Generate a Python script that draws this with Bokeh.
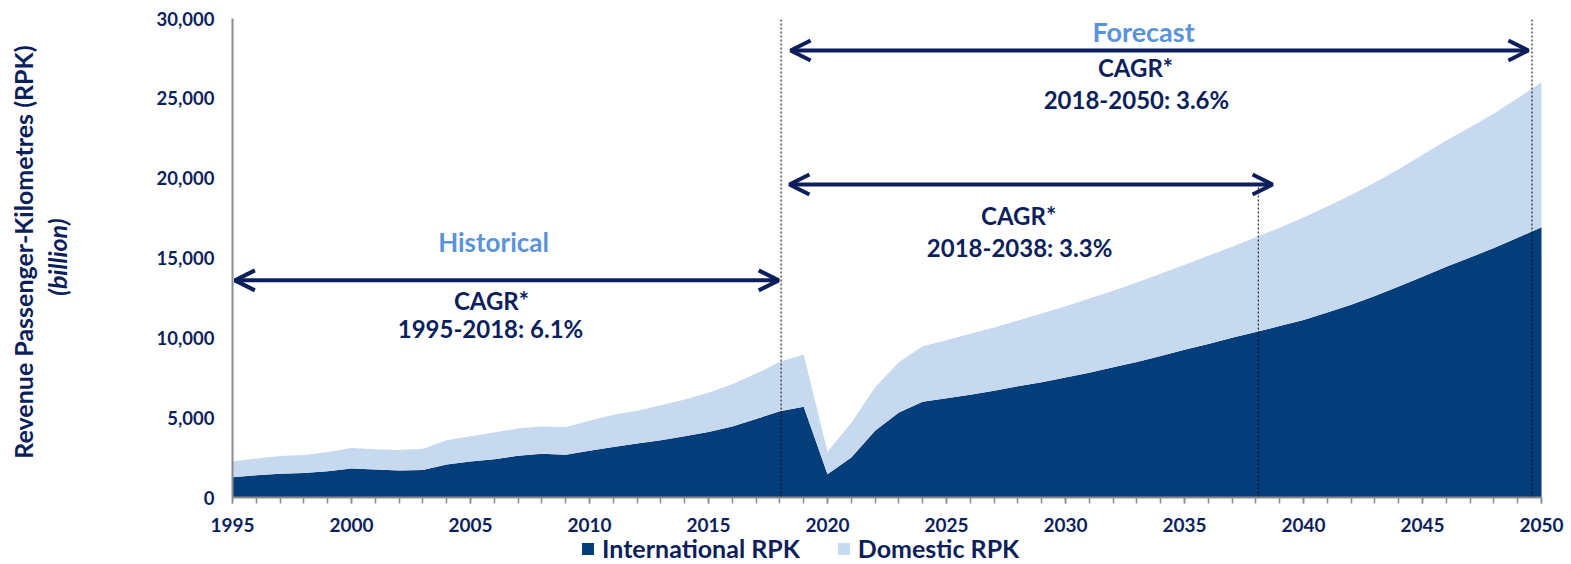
from bokeh.plotting import figure
from bokeh.models import (ColumnDataSource, Range1d, NumeralTickFormatter, SingleIntervalTicker,
                          Label, Arrow, OpenHead, Legend, LegendItem)
from bokeh.embed import file_html
from bokeh.resources import INLINE

years = list(range(1995, 2051))
international = [1270, 1390, 1480, 1540, 1650, 1810, 1750, 1690, 1730, 2070,
                 2260, 2400, 2610, 2740, 2680, 2930, 3170, 3380, 3590, 3840,
                 4110, 4450, 4920, 5400, 5690, 1460, 2510, 4180, 5330, 6000,
                 6210, 6440, 6690, 6960, 7220, 7510, 7820, 8160, 8490, 8870,
                 9250, 9620, 10000, 10360, 10740, 11120, 11580, 12070, 12620, 13210,
                 13820, 14450, 15030, 15620, 16270, 16920]
total = [2260, 2450, 2600, 2660, 2850, 3100, 3020, 2980, 3060, 3590,
         3840, 4070, 4330, 4450, 4410, 4810, 5190, 5440, 5780, 6140,
         6560, 7090, 7760, 8500, 8950, 2870, 4670, 6900, 8470, 9480,
         9850, 10250, 10650, 11080, 11520, 11980, 12460, 12950, 13470, 14010,
         14580, 15140, 15710, 16300, 16900, 17530, 18220, 18940, 19730, 20560,
         21460, 22360, 23190, 24050, 25000, 26000]
domestic = [t - i for t, i in zip(total, international)]
series_names = ["International RPK", "Domestic RPK"]

NAVY = "#0C1F5C"
INTL = "#033E7B"
DOM = "#C7D9EF"
LIGHT = "#5B93DB"
FONT = "Lato"

src = ColumnDataSource(dict(year=years, intl=international, dom=domestic))

# layout: data area 1995..2050 spans 1309 px from x=232; 0..30000 spans 479 px from y=18
PX_PER_YEAR = 1309 / 55
PX_PER_UNIT = 479 / 30000
W, H = 1571, 564
x0 = 1995 - 232 / PX_PER_YEAR
x1 = 2050 + (W - 232 - 1309) / PX_PER_YEAR
y1 = 30000 + 18 / PX_PER_UNIT
y0 = -(H - 18 - 479) / PX_PER_UNIT

p = figure(frame_width=W, frame_height=H, output_backend="svg", toolbar_location=None,
           x_range=Range1d(x0, x1), y_range=Range1d(y0, y1),
           min_border_left=0, min_border_right=0, min_border_top=0, min_border_bottom=0)
p.outline_line_color = None
p.background_fill_color = "white"

rs = p.varea_stack(stackers=["intl", "dom"], x="year", source=src, color=[INTL, DOM])

# grid
p.xgrid.grid_line_color = None
p.ygrid.grid_line_color = "#D9D9D9"
p.ygrid.grid_line_width = 1.5
p.ygrid.bounds = (1995, 2050)
p.ygrid.level = "underlay"

# axes (fixed inside the frame so that nothing is clipped)
p.xaxis.ticker = SingleIntervalTicker(interval=5, num_minor_ticks=5)
p.xaxis.fixed_location = 0
p.xaxis.bounds = (1995, 2050)
p.yaxis.ticker = SingleIntervalTicker(interval=5000)
p.yaxis.formatter = NumeralTickFormatter(format="0,0")
p.yaxis.fixed_location = 1995
p.yaxis.bounds = (0, 30000)
for ax in (p.xaxis[0], p.yaxis[0]):
    ax.axis_line_color = "#8C8C8C"
    ax.axis_line_width = 2
    ax.major_label_text_font = FONT
    ax.major_label_text_font_style = "bold"
    ax.major_label_text_color = NAVY
p.yaxis.major_label_text_font_size = "18.5px"
p.xaxis.major_label_text_font_size = "19px"
p.yaxis.major_tick_line_color = None
p.yaxis.minor_tick_line_color = None
p.yaxis.major_tick_out = 0
p.yaxis.minor_tick_out = 0
p.yaxis.major_label_standoff = 18

p.xaxis.major_tick_in = 0
p.xaxis.major_tick_out = 6
p.xaxis.minor_tick_in = 0
p.xaxis.minor_tick_out = 6
p.xaxis.major_tick_line_color = "#8C8C8C"
p.xaxis.minor_tick_line_color = "#8C8C8C"
p.xaxis.major_tick_line_width = 1.5
p.xaxis.minor_tick_line_width = 1.5
p.xaxis.major_label_standoff = 14

# y-axis title: two rotated lines, the second in italics
p.add_layout(Label(x=x0 + 22.5 / PX_PER_YEAR, y=15370, text="Revenue Passenger-Kilometres (RPK)",
                   angle=1.5707963, text_align="center", text_baseline="middle",
                   text_font=FONT, text_font_style="bold", text_font_size="25px",
                   text_color=NAVY))
p.add_layout(Label(x=x0 + 56 / PX_PER_YEAR, y=15060, text="(billion)",
                   angle=1.5707963, text_align="center", text_baseline="middle",
                   text_font=FONT, text_font_style="bold italic", text_font_size="25px",
                   text_color=NAVY))

# dotted reference lines
p.segment(x0=[2018.05, 2038.1, 2049.6], y0=[0, 0, 0],
          x1=[2018.05, 2038.1, 2049.6], y1=[30000, 19700, 30000],
          line_color="black", line_width=1, line_dash="2 2")

# arrows
def darrow(xa, xb, y):
    p.add_layout(Arrow(x_start=xa, x_end=xb, y_start=y, y_end=y,
                       line_color=NAVY, line_width=4,
                       start=OpenHead(size=20, line_color=NAVY, line_width=4),
                       end=OpenHead(size=20, line_color=NAVY, line_width=4)))

darrow(1995.1, 2017.95, 13600)
darrow(2018.45, 2049.45, 28000)
darrow(2018.4, 2038.7, 19600)

def txt(x, y, t, size, color=NAVY, style="bold"):
    p.add_layout(Label(x=x, y=y, text=t, text_align="center", text_baseline="middle",
                       text_font=FONT, text_font_style=style, text_font_size=size,
                       text_color=color))

txt(2005.97, 16030, "Historical", "26px", LIGHT)
txt(2005.88, 12330, "CAGR*", "24px")
txt(2005.84, 10580, "1995-2018: 6.1%", "24px")
txt(2033.28, 29170, "Forecast", "27px", LIGHT)
txt(2032.94, 26920, "CAGR*", "24px")
txt(2032.98, 24910, "2018-2050: 3.6%", "24px")
txt(2028.03, 17650, "CAGR*", "24px")
txt(2028.07, 15650, "2018-2038: 3.3%", "24px")

legend = Legend(items=[LegendItem(label=series_names[0], renderers=[rs[0]]),
                       LegendItem(label=series_names[1], renderers=[rs[1]])],
                orientation="horizontal", location=(580, 1))
legend.label_text_font = FONT
legend.label_text_font_style = "bold"
legend.label_text_font_size = "25px"
legend.label_text_color = NAVY
legend.glyph_width = 15
legend.glyph_height = 15
legend.padding = 0
legend.margin = 0
legend.spacing = 36
legend.label_standoff = 7
legend.label_height = 24
legend.border_line_color = None
legend.background_fill_alpha = 0
p.add_layout(legend)

open("out.html", "w").write(file_html(p, INLINE))
